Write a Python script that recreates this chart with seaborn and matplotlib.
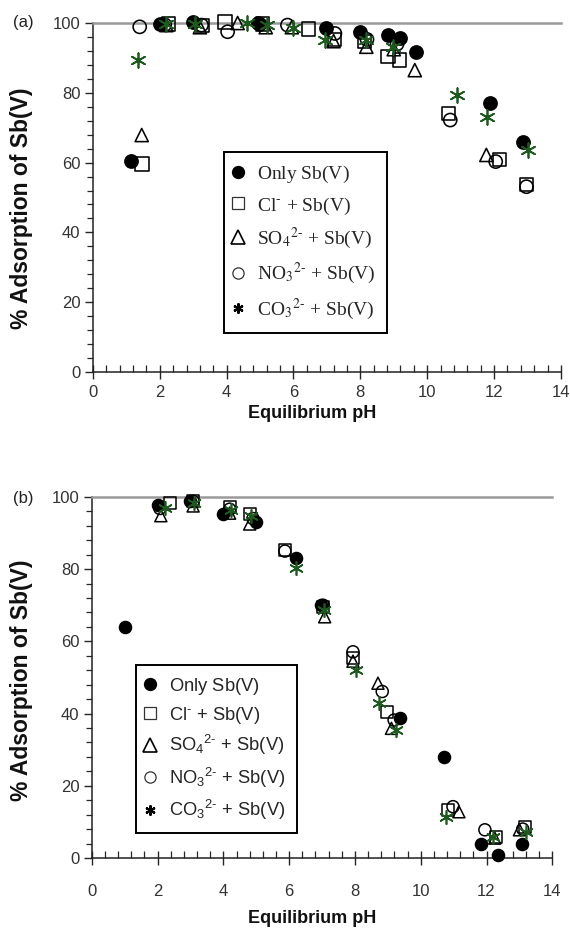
import numpy as np
import pandas as pd
import matplotlib
matplotlib.use("Agg")
import matplotlib.pyplot as plt
from matplotlib.lines import Line2D
from matplotlib.ticker import MultipleLocator
from matplotlib.font_manager import FontProperties
import seaborn as sns

sns.set_style("white")
plt.rcParams["font.family"] = ["Liberation Sans", "DejaVu Sans"]
plt.rcParams["mathtext.fontset"] = "custom"
plt.rcParams["mathtext.rm"] = "Liberation Sans"
plt.rcParams["mathtext.it"] = "Liberation Sans:italic"
plt.rcParams["mathtext.bf"] = "Liberation Sans:bold"

# ---- (a) adsorption vs equilibrium pH ----
a_only_x = [1.13, 2.0, 2.98, 4.93, 6.97, 7.98, 8.83, 9.18, 9.68, 11.87, 12.86]
a_only_y = [60.5, 99.6, 100.3, 100.0, 98.5, 97.5, 96.6, 95.6, 91.8, 77.0, 66.0]
a_cl_x = [1.47, 2.25, 3.27, 3.95, 5.08, 6.45, 7.23, 8.13, 8.83, 9.18, 10.65, 12.17, 12.97]
a_cl_y = [59.6, 99.7, 99.4, 100.3, 99.7, 98.3, 95.3, 94.7, 90.3, 89.4, 74.1, 60.9, 53.8]
a_so4_x = [1.46, 2.2, 3.2, 4.33, 5.17, 5.95, 7.2, 8.18, 9.0, 9.63, 11.77]
a_so4_y = [67.9, 99.4, 98.8, 100.0, 98.8, 98.8, 94.8, 93.2, 92.5, 86.5, 62.2]
a_no3_x = [1.4, 2.15, 3.25, 4.03, 5.0, 5.82, 7.24, 8.2, 9.1, 10.69, 12.05, 12.97]
a_no3_y = [98.9, 99.5, 99.4, 97.5, 99.6, 99.4, 97.0, 95.3, 94.0, 72.2, 60.3, 53.1]
a_co3_x = [1.35, 2.18, 3.05, 4.6, 5.2, 6.0, 6.94, 8.18, 8.98, 10.9, 11.8, 13.01]
a_co3_y = [89.4, 99.7, 99.7, 100.0, 99.4, 98.5, 95.1, 95.1, 93.2, 79.4, 73.2, 63.6]

# ---- (b) adsorption vs equilibrium pH ----
b_only_x = [1.0, 2.02, 3.0, 3.99, 5.0, 6.22, 6.98, 9.36, 10.71, 11.84, 12.35, 13.09]
b_only_y = [64.0, 97.8, 98.8, 95.3, 93.1, 83.0, 70.1, 38.7, 28.1, 3.9, 0.8, 3.9]
b_cl_x = [2.37, 3.08, 4.19, 4.8, 5.87, 7.03, 7.94, 8.98, 10.83, 12.3, 13.16]
b_cl_y = [98.3, 98.8, 97.3, 95.4, 85.3, 69.5, 55.3, 40.5, 13.3, 5.7, 8.7]
b_so4_x = [2.1, 3.08, 4.19, 4.8, 7.08, 7.94, 8.7, 9.11, 11.16, 12.25, 13.0]
b_so4_y = [94.8, 97.5, 95.5, 92.5, 66.8, 54.5, 48.4, 35.9, 12.8, 5.5, 7.8]
b_no3_x = [2.07, 3.08, 4.19, 4.9, 5.87, 7.03, 7.94, 8.83, 9.19, 10.98, 11.95, 13.1]
b_no3_y = [96.8, 98.8, 96.6, 94.0, 85.0, 70.0, 57.1, 46.1, 38.2, 14.2, 7.8, 8.0]
b_co3_x = [2.22, 3.1, 4.22, 4.85, 6.22, 7.05, 8.02, 8.73, 9.26, 10.78, 12.2, 13.19]
b_co3_y = [96.8, 98.3, 96.4, 94.6, 80.2, 68.7, 52.1, 42.8, 35.5, 11.4, 5.9, 7.3]

# legend entries; the empty sub/superscript groups keep the rows evenly spaced
labels = [
    r"Only Sb(V)$_{\ }$$^{\ }$",
    r"Cl$^{\text{-}}_{\ }$ + Sb(V)",
    r"SO$_{4}$$^{2\text{-}}$ + Sb(V)",
    r"NO$_{3}$$^{2\text{-}}$ + Sb(V)",
    r"CO$_{3}$$^{2\text{-}}$ + Sb(V)",
]
x_ticks = [0, 2, 4, 6, 8, 10, 12, 14]
y_ticks = [0, 20, 40, 60, 80, 100]

GREEN = "#1d5a1d"
STAR = (6, 2, 0)

fig = plt.figure(figsize=(5.7, 9.39), dpi=100)
ax_a = fig.add_axes([0.163, 0.6038, 0.821, 0.3717])
ax_b = fig.add_axes([0.161, 0.0863, 0.808, 0.3845])


def draw_series(ax, xs, ys, size, lw):
    (ox, oy), (cx, cy), (sx, sy), (nx, ny), (kx, ky) = zip(xs, ys)
    sns.scatterplot(x=ox, y=oy, marker="o", s=size, color="black",
                    edgecolor="black", linewidth=lw, ax=ax, clip_on=False, zorder=3)
    sns.scatterplot(x=cx, y=cy, marker="s", s=size, facecolor="none",
                    edgecolor="black", linewidth=lw, ax=ax, clip_on=False, zorder=3)
    sns.scatterplot(x=sx, y=sy, marker="^", s=size, facecolor="none",
                    edgecolor="black", linewidth=lw, ax=ax, clip_on=False, zorder=3)
    sns.scatterplot(x=nx, y=ny, marker="o", s=size, facecolor="none",
                    edgecolor="black", linewidth=lw, ax=ax, clip_on=False, zorder=3)
    sns.scatterplot(x=kx, y=ky, marker=STAR, s=size * 1.25, color=GREEN,
                    linewidth=lw * 1.1, ax=ax, clip_on=False, zorder=4)


draw_series(ax_a,
            [a_only_x, a_cl_x, a_so4_x, a_no3_x, a_co3_x],
            [a_only_y, a_cl_y, a_so4_y, a_no3_y, a_co3_y], 90, 1.15)
draw_series(ax_b,
            [b_only_x, b_cl_x, b_so4_x, b_no3_x, b_co3_x],
            [b_only_y, b_cl_y, b_so4_y, b_no3_y, b_co3_y], 75, 1.1)


def style_axes(ax, xpad):
    ax.set_xlim(0, 14)
    ax.set_ylim(0, 100)
    ax.set_xticks(x_ticks)
    ax.set_yticks(y_ticks)
    ax.xaxis.set_minor_locator(MultipleLocator(0.4))
    ax.yaxis.set_minor_locator(MultipleLocator(4))
    ax.tick_params(axis="x", which="major", direction="inout", length=10,
                   width=1.0, pad=xpad, labelsize=12, labelcolor="#333333",
                   bottom=True, top=False)
    ax.tick_params(axis="x", which="minor", direction="in", length=5,
                   width=0.9, bottom=True, top=False)
    ax.tick_params(axis="y", which="major", direction="out", length=6,
                   width=1.0, pad=3, labelsize=12, labelcolor="#333333",
                   left=True, right=False)
    ax.tick_params(axis="y", which="minor", direction="out", length=4,
                   width=0.9, left=True, right=False)
    for side in ("left", "bottom"):
        ax.spines[side].set_color("#222222")
        ax.spines[side].set_linewidth(1.1)
    ax.spines["top"].set_color("#9a9a9a")
    ax.spines["top"].set_linewidth(1.8)
    ax.spines["right"].set_visible(False)
    ax.set_xlabel("Equilibrium pH", fontsize=13, fontweight="bold", color="#111111")
    ax.set_ylabel("% Adsorption of Sb(V)", fontsize=16.5, fontweight="bold",
                  color="#111111")


style_axes(ax_a, 4)
style_axes(ax_b, 14)
ax_a.xaxis.set_label_coords(0.468, -0.095)
ax_a.yaxis.set_label_coords(-0.128, 0.47)
ax_b.xaxis.set_label_coords(0.478, -0.145)
ax_b.yaxis.set_label_coords(-0.128, 0.493)

fig.text(13 / 570, 1 - 22 / 939, "(a)", fontsize=12, va="center", ha="left",
         color="#222222")
fig.text(13 / 570, 1 - 499 / 939, "(b)", fontsize=12, va="center", ha="left",
         color="#222222")


def legend_handles(ms):
    return [
        Line2D([], [], ls="none", marker="o", ms=ms * 0.95, mfc="black", mec="black"),
        Line2D([], [], ls="none", marker="s", ms=ms, mfc="none", mec="#333333", mew=0.9),
        Line2D([], [], ls="none", marker="^", ms=ms * 1.1, mfc="none", mec="black", mew=1.2),
        Line2D([], [], ls="none", marker="o", ms=ms * 0.9, mfc="none", mec="#333333", mew=0.9),
        Line2D([], [], ls="none", marker=STAR, ms=ms * 0.8, mec="black", mew=1.6),
    ]


prop_a = FontProperties(family="Liberation Serif", size=14, math_fontfamily="stix")
leg_a = ax_a.legend(legend_handles(9), labels, loc="upper left",
                    bbox_to_anchor=(0.28, 0.63), prop=prop_a, frameon=True,
                    fancybox=False, edgecolor="black", framealpha=1,
                    borderpad=0.6, labelspacing=0.52, handlelength=0.2,
                    handletextpad=0.89, borderaxespad=0)
leg_a.get_frame().set_linewidth(1.4)

prop_b = FontProperties(family="Liberation Sans", size=13.2, math_fontfamily="custom")
leg_b = ax_b.legend(legend_handles(9), labels, loc="upper left",
                    bbox_to_anchor=(0.0955, 0.535), prop=prop_b, frameon=True,
                    fancybox=False, edgecolor="black", framealpha=1,
                    borderpad=0.6, labelspacing=0.45, handlelength=0.36,
                    handletextpad=0.87, borderaxespad=0)
leg_b.get_frame().set_linewidth(1.4)

fig.savefig("out.png", dpi=100)
